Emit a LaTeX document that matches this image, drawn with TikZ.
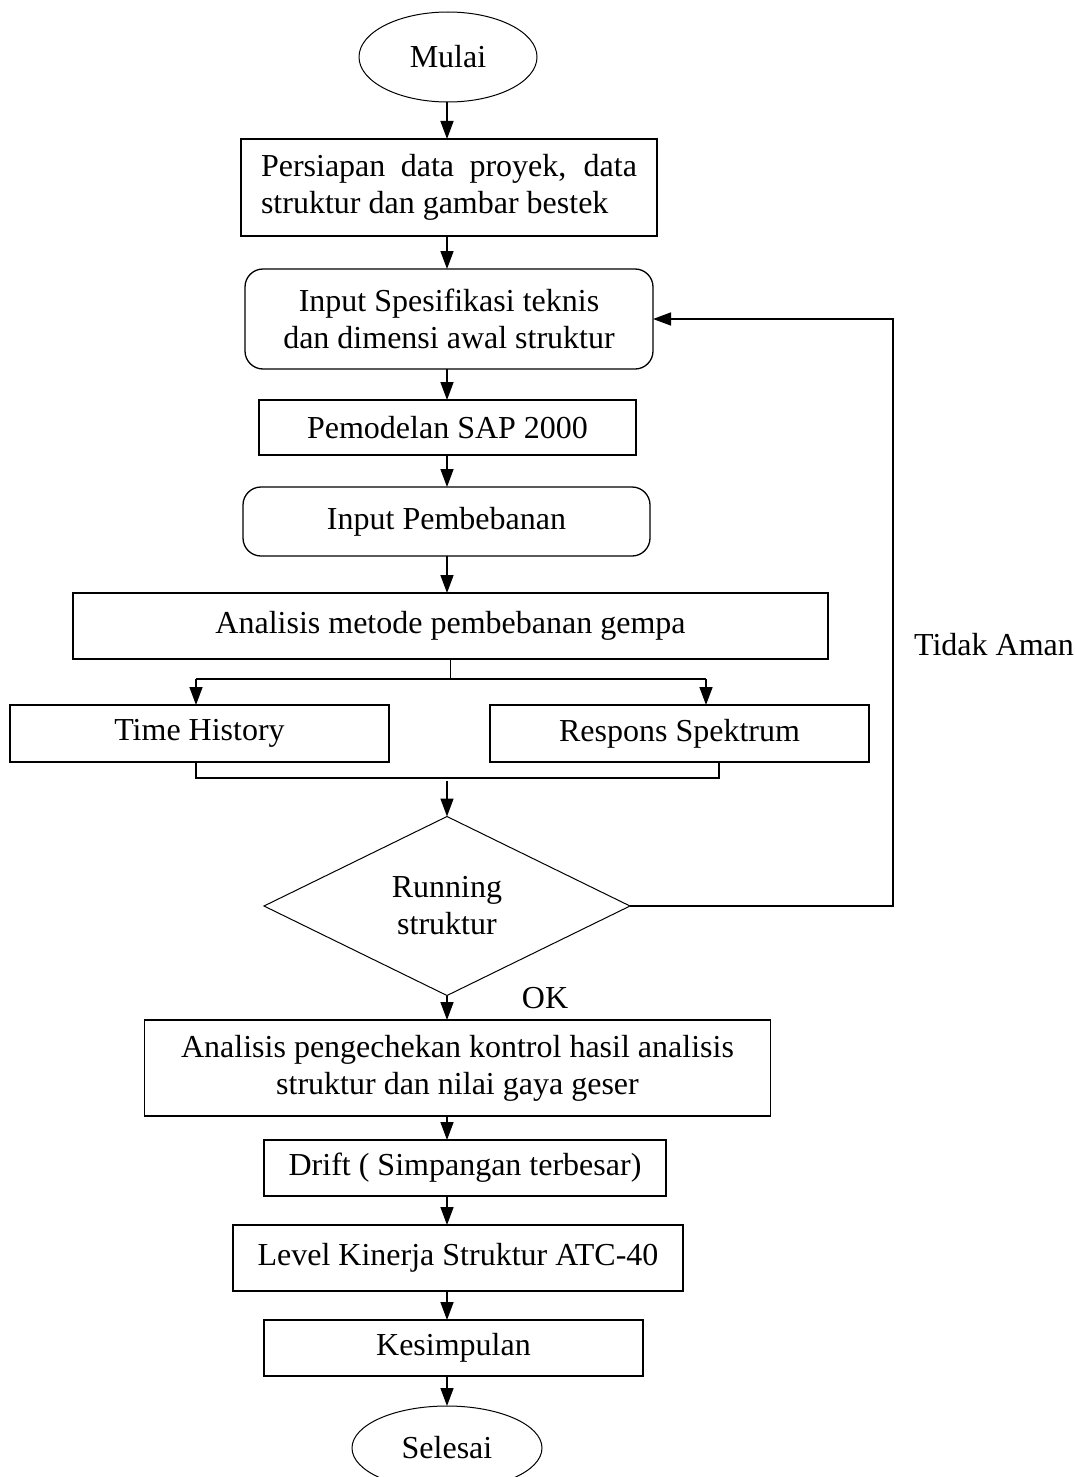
\documentclass[tikz,border=0pt]{standalone}
\usepackage{fontspec}
\setmainfont{Liberation Serif}
\usetikzlibrary{shapes.geometric,arrows.meta}
\begin{document}
\begin{tikzpicture}[x=1pt,y=-1pt,
  font=\fontsize{32}{37}\selectfont,
  every node/.style={inner sep=0pt, outer sep=0pt, line width=1.3pt},
  box/.style={draw, rectangle, align=center, anchor=center},
  rbox/.style={draw, rectangle, rounded corners=18pt, align=center, anchor=center},
  term/.style={draw, ellipse, line width=1pt},
  dec/.style={draw, diamond, align=center, line width=1pt},
  arr/.style={line width=1.5pt, -{Triangle[length=18pt,width=13pt]}},
  ln/.style={line width=1.6pt}]
\useasboundingbox (0,0) rectangle (1075,1477);
\coordinate (col) at (447,0);
\node[term, minimum width=178pt, minimum height=90pt] (mulai) at (448,57) {Mulai};
\node[box, minimum width=416pt, minimum height=97pt] (persiapan) at (449,187.5)
  {\parbox{376pt}{\fontsize{32}{37}\selectfont Persiapan data proyek, data\linebreak struktur dan gambar bestek}};
\node[rbox, minimum width=408pt, minimum height=100pt] (input1) at (449,319)
  {Input Spesifikasi teknis\\dan dimensi awal struktur};
\node[box, minimum width=377pt, minimum height=55pt] (sap) at (447.5,427.5) {Pemodelan SAP 2000};
\node[rbox, minimum width=407pt, minimum height=69pt] (input2) at (446.5,521.5) {Input Pembebanan};
\node[box, minimum width=755pt, minimum height=66pt] (analisis) at (450.5,626) {Analisis metode pembebanan gempa};
\node[box, minimum width=379pt, minimum height=57pt] (time) at (199.5,733.5) {Time History};
\node[box, minimum width=379pt, minimum height=57pt] (respons) at (679.5,733.5) {Respons Spektrum};
\node[dec, minimum width=366pt, minimum height=179pt] (run) at (447,906) {Running\\struktur};
\node[box, minimum width=626pt, minimum height=96pt] (cek) at (457.5,1068)
  {Analisis pengechekan kontrol hasil analisis\\struktur dan nilai gaya geser};
\node[box, minimum width=402pt, minimum height=56pt] (drift) at (465,1168) {Drift ( Simpangan terbesar)};
\node[box, minimum width=450pt, minimum height=66pt] (level) at (458,1258) {Level Kinerja Struktur ATC-40};
\node[box, minimum width=379pt, minimum height=56pt] (kes) at (453.5,1348) {Kesimpulan};
\node[term, minimum width=190pt, minimum height=84pt] (selesai) at (447,1448) {Selesai};
\node (tidak) at (994,645) {Tidak Aman};
\node (ok) at (545,998) {OK};
% arrows down the column
\draw[arr] (mulai.south -| col) -- (persiapan.north -| col);
\draw[arr] (persiapan.south -| col) -- (input1.north -| col);
\draw[arr] (input1.south -| col) -- (sap.north -| col);
\draw[arr] (sap.south -| col) -- (input2.north -| col);
\draw[arr] (input2.south -| col) -- (analisis.north -| col);
% branch
\coordinate (tl) at (196,679);
\coordinate (tr) at (706,679);
\coordinate (ml) at (196,778);
\coordinate (mr) at (719,778);
\coordinate (mid) at (447,781);
\coordinate (fb) at (893,0);
\draw[ln] (analisis.south) -- (analisis.south |- tl);
\draw[ln] (tl) -- (tr);
\draw[arr] (tl) -- (time.north -| tl);
\draw[arr] (tr) -- (respons.north -| tr);
\draw[ln] (time.south -| ml) -- (ml) -- (mr) -- (respons.south -| mr);
\draw[arr] (mid) -- (run.north);
% feedback
\draw[arr] (run.east) -- (run.east -| fb) -- (fb |- input1.east) -- (input1.east);
% lower column
\draw[arr] (run.south) -- (cek.north -| col);
\draw[arr] (cek.south -| col) -- (drift.north -| col);
\draw[arr] (drift.south -| col) -- (level.north -| col);
\draw[arr] (level.south -| col) -- (kes.north -| col);
\draw[arr] (kes.south -| col) -- (selesai.north -| col);
\end{tikzpicture}
\end{document}
